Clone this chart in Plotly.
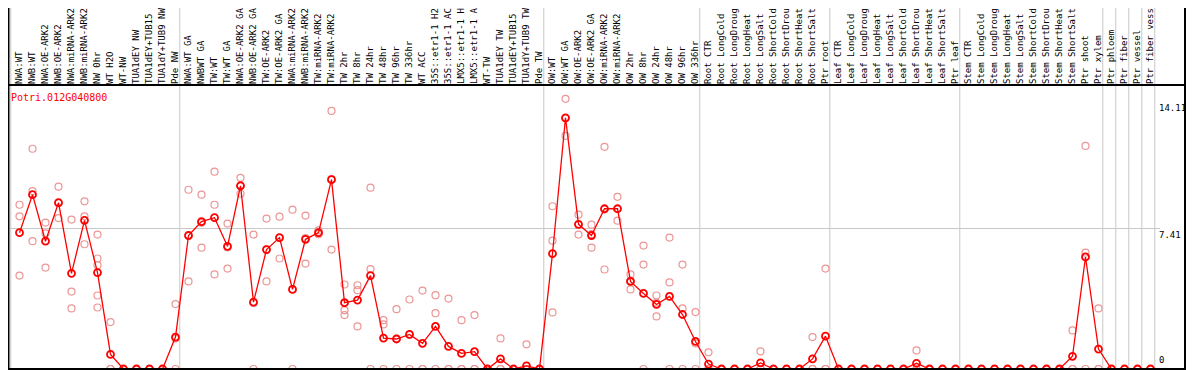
import plotly.graph_objects as go

gene = "Potri.012G040800"

labels = [
    "NWA:WT", "NWB:WT", "NWA:OE-ARK2", "NWB:OE-ARK2", "NWA:miRNA-ARK2", "NWB:miRNA-ARK2",
    "NW 0hr", "WT H2O", "WT-NW", "TUA1dEY NW", "TUA1dEY+TUB15 NW", "TUA1dY+TUB9 NW", "Pde NW",
    "NWA:WT GA", "NWBWT GA", "TW:WT", "TW:WT GA", "NWA:OE-ARK2 GA", "NWB:OE-ARK2 GA",
    "TW:OE-ARK2", "TW:OE-ARK2 GA", "NWA:miRNA-ARK2 GA", "NWB:miRNA-ARK2 GA", "TW:miRNA-ARK2",
    "TW:miRNA-ARK2 GA", "TW 2hr", "TW 8hr", "TW 24hr", "TW 48hr", "TW 96hr", "TW 336hr",
    "WT ACC", "35S::etr1-1 H2O", "35S::etr1-1 ACC", "LMX5::etr1-1 H2O", "LMX5::etr1-1 ACC",
    "WT-TW", "TUA1dEY TW", "TUA1dEY+TUB15 TW", "TUA1dY+TUB9 TW", "Pde TW",
    "OW:WT", "OW:WT GA", "OW:OE-ARK2", "OW:OE-ARK2 GA", "OW:miRNA-ARK2", "OW:miRNA-ARK2 GA",
    "OW 2hr", "OW 8hr", "OW 24hr", "OW 48hr", "OW 96hr", "OW 336hr",
    "Root CTR", "Root LongCold", "Root LongDrought", "Root LongHeat", "Root LongSalt",
    "Root ShortCold", "Root ShortDrought", "Root ShortHeat", "Root ShortSalt", "Ptr root",
    "Leaf CTR", "Leaf LongCold", "Leaf LongDrought", "Leaf LongHeat", "Leaf LongSalt",
    "Leaf ShortCold", "Leaf ShortDrought", "Leaf ShortHeat", "Leaf ShortSalt", "Ptr leaf",
    "Stem CTR", "Stem LongCold", "Stem LongDrought", "Stem LongHeat", "Stem LongSalt",
    "Stem ShortCold", "Stem ShortDrought", "Stem ShortHeat", "Stem ShortSalt", "Ptr shoot",
    "Ptr xylem", "Ptr phloem", "Ptr fiber", "Ptr vessel", "Ptr fiber vessel",
]

group_sizes = [13, 28, 12, 10, 10, 11, 1, 1, 1, 1]

mean_values = [
    7.18, 9.18, 6.73, 8.76, 5.04, 7.83, 5.08, 0.77, 0, 0, 0, 0, 1.68,
    7.03, 7.76, 7.97, 6.46, 9.65, 3.52, 6.29, 6.92, 4.19, 6.83, 7.18, 9.97, 3.49, 3.63,
    4.92, 1.63, 1.58, 1.82, 1.35, 2.24, 1.19, 0.82, 0.91, 0, 0.53, 0, 0.16, 0,
    6.08, 13.23, 7.62, 7.03, 8.44, 8.44, 4.61, 3.98, 3.40, 3.82, 2.87, 1.45,
    0.26, 0, 0, 0, 0.32, 0, 0, 0, 0.53, 1.73,
    0, 0, 0, 0, 0, 0, 0.30, 0, 0, 0,
    0, 0, 0, 0, 0, 0, 0, 0, 0.67, 5.90, 1.05,
    0, 0, 0, 0,
]

replicates = [
    [8.65, 8.04, 4.92], [11.60, 9.37, 6.73], [7.71, 5.34, 7.14], [9.60, 7.95, 8.73],
    [7.87, 4.08, 3.19], [8.83, 8.04, 6.57], [7.08, 5.82, 5.47, 3.87, 3.24], [2.47, 0, 0],
    [0, 0, 0], [0, 0, 0], [0, 0, 0], [0, 0, 0], [3.42, 1.6, 0],
    [9.44, 4.61, 7.04], [9.18, 6.39, 7.7], [10.39, 8.65, 4.98], [7.66, 5.29, 6.4],
    [10.07, 9.23, 9.65], [7.08, 3.48, 0], [7.92, 4.61, 6.3], [8.02, 5.82, 6.9],
    [8.39, 4.2, 0], [8.08, 5.55, 6.9], [7.3, 7.1, 7.15], [13.59, 6.29, 10.0],
    [4.45, 3.10, 2.84], [4.41, 4.15, 2.24], [9.55, 5.26, 0], [2.57, 2.35, 0],
    [3.15, 1.6, 0], [3.66, 1.8, 0], [4.13, 0, 0], [3.89, 2.94, 0], [3.71, 0, 0],
    [2.57, 0, 0], [2.84, 0, 0], [0, 0, 0], [1.61, 0, 0], [0, 0, 0], [1.30, 0, 0], [0, 0, 0],
    [8.57, 6.76, 2.98], [14.23, 12.28, 13.2], [8.13, 7.08, 7.6], [7.60, 6.39, 7.1],
    [11.70, 5.24, 8.4], [9.07, 7.81, 8.44], [4.98, 4.19, 4.66], [6.50, 5.50, 0],
    [3.87, 2.77, 3.5], [6.92, 4.56, 0], [5.50, 3.19, 0], [3.0, 1.35, 0],
    [0.88, 0, 0], [0, 0, 0], [0, 0, 0], [0, 0, 0], [0.93, 0, 0], [0, 0, 0], [0, 0, 0],
    [0, 0, 0], [1.68, 0, 0], [5.29, 0, 0],
    [0, 0, 0], [0, 0, 0], [0, 0, 0], [0, 0, 0], [0, 0, 0], [0, 0, 0], [0.98, 0, 0],
    [0, 0, 0], [0, 0, 0], [0, 0, 0],
    [0, 0, 0], [0, 0, 0], [0, 0, 0], [0, 0, 0], [0, 0, 0], [0, 0, 0], [0, 0, 0], [0, 0, 0],
    [2.03, 0, 0], [11.75, 6.13, 0], [3.19, 0, 0],
    [0, 0, 0], [0, 0, 0], [0, 0, 0], [0, 0, 0],
]

y_tick_values = [0, 7.41, 14.11]
y_tick_text = ["0", "7.41", "14.11"]

# ---------------------------------------------------------------
# The page body has an 8px margin, so the figure is sized to fit the window
# and everything is laid out 8px up/left of where the reference has it.
OFF = 8
W, H = 1194 - OFF, 370 - OFF
ML, MR, MT, MB = 0, 34, 85 - OFF, 1
FONT = "DejaVu Sans Mono"
GRID = "#c8c8c8"
MEAN_COLOR = "#ff0000"
REP_COLOR = "rgb(236,150,150)"

idx = list(range(len(labels)))

rep_x, rep_y = [], []
for i, reps in enumerate(replicates):
    for v in reps:
        rep_x.append(i)
        rep_y.append(v)

fig = go.Figure()
fig.add_trace(go.Scatter(
    x=rep_x, y=rep_y, mode="markers",
    marker=dict(symbol="circle-open", size=7, color=REP_COLOR, line=dict(width=1.2, color=REP_COLOR)),
    hoverinfo="skip", showlegend=False,
))
fig.add_trace(go.Scatter(
    x=idx, y=mean_values, mode="lines+markers",
    line=dict(color=MEAN_COLOR, width=1.3),
    marker=dict(symbol="circle-open", size=7, color=MEAN_COLOR, line=dict(width=1.8, color=MEAN_COLOR)),
    showlegend=False,
))

plot_w = W - ML - MR
plot_h = H - MT - MB

shapes = []
# group separators
b = 0
bounds = [0]
for s in group_sizes:
    b += s
    bounds.append(b)
for bd in bounds:
    shapes.append(dict(type="line", xref="x", yref="paper", x0=bd - 0.67, x1=bd - 0.67,
                       y0=0, y1=(H - MB) / plot_h + 0.02, line=dict(color=GRID, width=1),
                       layer="below"))

right_px = 1185 - OFF
xr = (right_px - ML) / plot_w
top_y = (H - MB) / plot_h + 0.02
x0p = 0.5 / plot_w
# frame lines
shapes.append(dict(type="line", xref="paper", yref="paper", x0=x0p, x1=x0p, y0=0, y1=top_y,
                   line=dict(color="black", width=2)))
shapes.append(dict(type="line", xref="paper", yref="paper", x0=xr, x1=xr, y0=0, y1=top_y,
                   line=dict(color="black", width=2)))
shapes.append(dict(type="line", xref="paper", yref="paper", x0=0, x1=xr + 0.01, y0=1, y1=1,
                   line=dict(color="black", width=2)))
shapes.append(dict(type="line", xref="paper", yref="paper", x0=0, x1=xr + 0.01, y0=0, y1=0,
                   line=dict(color="black", width=2)))

annotations = [dict(
    text=gene, xref="paper", yref="paper", x=(9 - OFF - ML) / plot_w,
    y=(H - MB - (90 - OFF)) / plot_h,
    xanchor="left", yanchor="top", showarrow=False,
    font=dict(family=FONT, size=10, color="red"),
)]
for v, t in zip(y_tick_values, y_tick_text):
    annotations.append(dict(
        text=t, xref="paper", yref="y", x=(1157 - OFF - ML) / plot_w, y=v,
        xanchor="left", yanchor="bottom" if v == 0 else "top",
        yshift=2 if v == 0 else 0, showarrow=False,
        font=dict(family=FONT, size=9, color="black"),
    ))

step = 13.0
x_min = -(19.5 - OFF - ML) / step
x_max = x_min + plot_w / step
y_max = plot_h / 140.7 * 7.41

fig.update_layout(
    width=W, height=H,
    margin=dict(l=ML, r=MR, t=MT, b=MB, pad=0),
    paper_bgcolor="white", plot_bgcolor="rgba(0,0,0,0)",
    xaxis=dict(
        range=[x_min, x_max], side="top", tickmode="array", tickvals=idx, ticktext=labels,
        tickangle=-90, tickfont=dict(family=FONT, size=9, color="black"),
        showgrid=False, zeroline=False, showline=False, ticks="", automargin=False,
    ),
    yaxis=dict(
        range=[0, y_max], tickmode="array", tickvals=[y_tick_values[1]], showticklabels=False,
        showgrid=True, gridcolor=GRID, gridwidth=1, zeroline=False, showline=False, ticks="",
        automargin=False,
    ),
    shapes=shapes, annotations=annotations,
)

fig.write_html("out.html")
